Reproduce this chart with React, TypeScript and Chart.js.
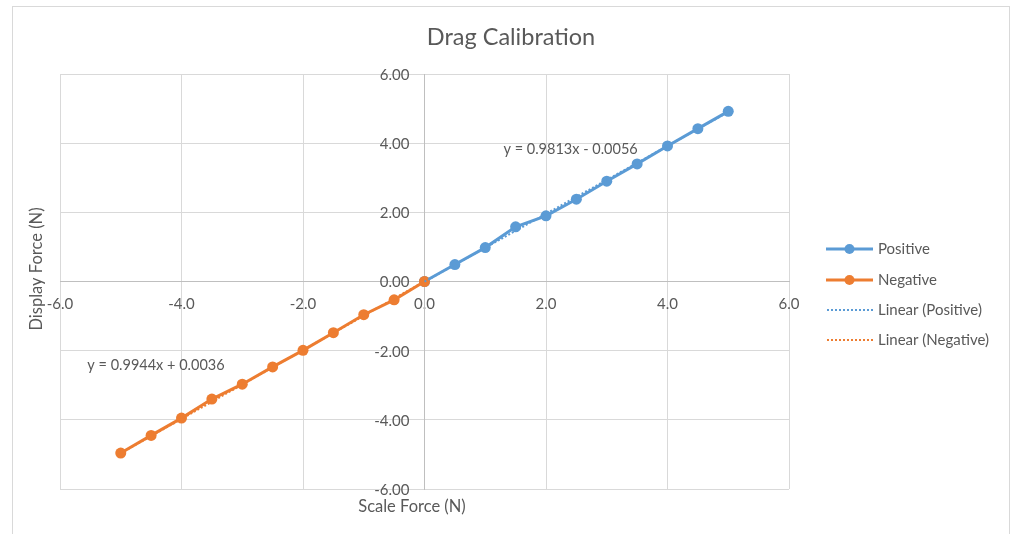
import React, { useEffect, useRef } from "react";
import { Chart, registerables } from "chart.js";

Chart.register(...registerables);

// ---- data ----
const positiveX = [0, 0.5, 1, 1.5, 2, 2.5, 3, 3.5, 4, 4.5, 5];
const positiveY = [0, 0.49, 0.98, 1.58, 1.9, 2.38, 2.9, 3.4, 3.92, 4.42, 4.92];
const negativeX = [0, -0.5, -1, -1.5, -2, -2.5, -3, -3.5, -4, -4.5, -5];
const negativeY = [0, -0.53, -0.96, -1.48, -1.99, -2.47, -2.97, -3.4, -3.95, -4.45, -4.96];

// trendline equations shown on the chart
const positiveFit = { slope: 0.9813, intercept: -0.0056 };
const negativeFit = { slope: 0.9944, intercept: 0.0036 };

const positiveLabel = "y = 0.9813x - 0.0056";
const negativeLabel = "y = 0.9944x + 0.0036";
const positiveLabelAt = { x: 1.3, y: 3.81 };
const negativeLabelAt = { x: -5.55, y: -2.42 };

const titleText = "Drag Calibration";
const xTitle = "Scale Force (N)";
const yTitle = "Display Force (N)";
const legendItems = ["Positive", "Negative", "Linear (Positive)", "Linear (Negative)"];

const BLUE = "#5b9bd5";
const ORANGE = "#ed7d31";
const TEXT = "#595959";
const FONT = "Lato";

function pts(xs: number[], ys: number[]) {
  return xs.map((x, i) => ({ x, y: ys[i] }));
}
function fitLine(xs: number[], fit: { slope: number; intercept: number }) {
  const a = Math.min(...xs);
  const b = Math.max(...xs);
  return [
    { x: a, y: fit.slope * a + fit.intercept },
    { x: b, y: fit.slope * b + fit.intercept },
  ];
}

const decorPlugin = {
  id: "decor",
  beforeDraw(chart: any) {
    const ctx = chart.ctx;
    ctx.save();
    ctx.strokeStyle = "#d9d9d9";
    ctx.lineWidth = 1;
    ctx.strokeRect(12.5, 6.5, 997, 560);
    ctx.restore();
  },
  afterDraw(chart: any) {
    const ctx = chart.ctx;
    const xs = chart.scales.x;
    const ys = chart.scales.y;
    ctx.save();
    ctx.fillStyle = TEXT;
    // y tick labels, left of the vertical axis
    ctx.font = `15px ${FONT}`;
    ctx.textAlign = "right";
    ctx.textBaseline = "middle";
    const axisX = xs.getPixelForValue(0);
    ys.ticks.forEach((t: any) => {
      ctx.fillText(Number(t.value).toFixed(2), axisX - 15, ys.getPixelForValue(t.value) + 1);
    });
    // title
    ctx.font = `23.5px ${FONT}`;
    ctx.textAlign = "center";
    ctx.fillText(titleText, 511, 37);
    // axis titles
    ctx.font = `16.5px ${FONT}`;
    ctx.fillText(xTitle, 412, 507);
    ctx.save();
    ctx.translate(37, 269);
    ctx.rotate(-Math.PI / 2);
    ctx.fillText(yTitle, 0, 0);
    ctx.restore();
    // equations
    ctx.font = `14.5px ${FONT}`;
    ctx.textAlign = "left";
    ctx.fillText(positiveLabel, xs.getPixelForValue(positiveLabelAt.x), ys.getPixelForValue(positiveLabelAt.y));
    ctx.fillText(negativeLabel, xs.getPixelForValue(negativeLabelAt.x), ys.getPixelForValue(negativeLabelAt.y));
    // legend
    const rows = [249, 280, 310, 340];
    const colors = [BLUE, ORANGE, BLUE, ORANGE];
    ctx.font = `15px ${FONT}`;
    legendItems.forEach((label, i) => {
      const y = rows[i];
      ctx.strokeStyle = colors[i];
      ctx.fillStyle = colors[i];
      if (i < 2) {
        ctx.lineWidth = 3;
        ctx.setLineDash([]);
        ctx.beginPath();
        ctx.moveTo(826, y);
        ctx.lineTo(873, y);
        ctx.stroke();
        ctx.beginPath();
        ctx.arc(849.5, y, 5, 0, Math.PI * 2);
        ctx.fill();
      } else {
        ctx.lineWidth = 2;
        ctx.setLineDash([2, 2]);
        ctx.beginPath();
        ctx.moveTo(827, y);
        ctx.lineTo(873, y);
        ctx.stroke();
        ctx.setLineDash([]);
      }
      ctx.fillStyle = TEXT;
      ctx.fillText(label, 878, y);
    });
    ctx.restore();
  },
};

export default function App() {
  const ref = useRef<HTMLCanvasElement | null>(null);
  useEffect(() => {
    if (!ref.current) return;
    const tickFont = { family: FONT, size: 15 };
    const chart = new Chart(ref.current, {
      type: "scatter",
      data: {
        datasets: [
          {
            label: "Linear (Positive)",
            data: fitLine(positiveX, positiveFit),
            showLine: true,
            borderColor: BLUE,
            borderWidth: 2,
            borderDash: [2, 2],
            pointRadius: 0,
            order: 0,
          },
          {
            label: "Linear (Negative)",
            data: fitLine(negativeX, negativeFit),
            showLine: true,
            borderColor: ORANGE,
            borderWidth: 2,
            borderDash: [2, 2],
            pointRadius: 0,
            order: 0,
          },
          {
            label: "Negative",
            data: pts(negativeX, negativeY),
            showLine: true,
            borderColor: ORANGE,
            backgroundColor: ORANGE,
            borderWidth: 3,
            pointRadius: 5.5,
            pointBorderWidth: 0,
            order: 1,
          },
          {
            label: "Positive",
            data: pts(positiveX, positiveY),
            showLine: true,
            borderColor: BLUE,
            backgroundColor: BLUE,
            borderWidth: 3,
            pointRadius: 5.5,
            pointBorderWidth: 0,
            order: 2,
          },
        ],
      },
      options: {
        responsive: false,
        animation: false,
        devicePixelRatio: 1,
        layout: { padding: { left: 60, top: 74, right: 224, bottom: 45 } },
        plugins: { legend: { display: false }, tooltip: { enabled: false }, title: { display: false } },
        scales: {
          x: {
            type: "linear",
            position: { y: 0 },
            min: -6,
            max: 6,
            ticks: {
              stepSize: 2,
              callback: (v: any) => Number(v).toFixed(1),
              font: tickFont,
              color: TEXT,
              padding: 14,
              maxRotation: 0,
            },
            grid: { color: "#d9d9d9", drawTicks: false, lineWidth: 1 },
            border: { color: "#bfbfbf", width: 1 },
          },
          y: {
            type: "linear",
            position: { x: 0 },
            min: -6,
            max: 6,
            ticks: {
              stepSize: 2,
              display: false,
            },
            grid: { color: "#d9d9d9", drawTicks: false, lineWidth: 1 },
            border: { color: "#bfbfbf", width: 1 },
          },
        },
      },
      plugins: [decorPlugin],
    });
    return () => chart.destroy();
  }, []);
  return (
    <div style={{ position: "fixed", left: 0, top: 0, width: 1013, height: 534, background: "#fff" }}>
      <canvas ref={ref} width={1013} height={534} style={{ width: 1013, height: 534 }} />
    </div>
  );
}
